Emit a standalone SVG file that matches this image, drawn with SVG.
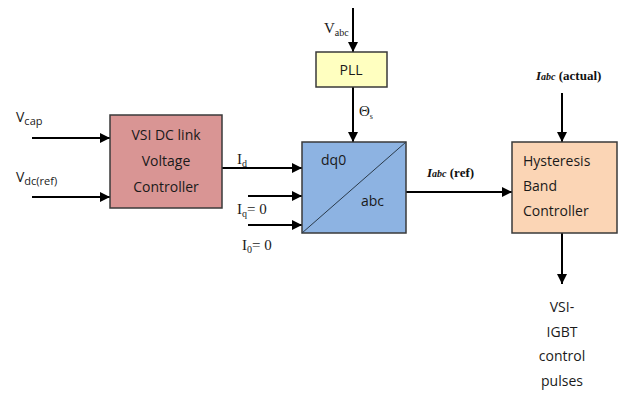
<svg xmlns="http://www.w3.org/2000/svg" width="618" height="395" viewBox="0 0 618 395">
<style>
.box{stroke:#3a3a3a;stroke-width:1.5}
.ln{stroke:#000;stroke-width:2;fill:none}
.t{font-family:"Open Sans","Liberation Sans",sans-serif;font-size:14px;fill:#1a1a1a}
.s{font-family:"Liberation Serif",serif;font-size:15px;fill:#1a1a1a}
.it{font-family:"Liberation Serif",serif;font-weight:bold;fill:#111}
</style>
<defs>
<marker id="ah" viewBox="0 0 10 10" refX="10" refY="5" markerWidth="5" markerHeight="5" orient="auto" markerUnits="strokeWidth">
<path d="M0,0 L10,5 L0,10 z" fill="#000"/>
</marker>
</defs>
<rect width="618" height="395" fill="#fff"/>
<g id="connectors">
<line class="ln" x1="32" y1="138" x2="110" y2="138" marker-end="url(#ah)"/>
<line class="ln" x1="32" y1="197" x2="110" y2="197" marker-end="url(#ah)"/>
<line class="ln" x1="353" y1="8" x2="353" y2="52" marker-end="url(#ah)"/>
<line class="ln" x1="353" y1="87" x2="353" y2="142" marker-end="url(#ah)"/>
<line class="ln" x1="222" y1="168" x2="302" y2="168" marker-end="url(#ah)"/>
<line class="ln" x1="248" y1="196" x2="302" y2="196" marker-end="url(#ah)"/>
<line class="ln" x1="248" y1="225" x2="302" y2="225" stroke-width="2.5" marker-end="url(#ah)"/>
<line class="ln" x1="406" y1="192" x2="512" y2="192" marker-end="url(#ah)"/>
<line class="ln" x1="562" y1="93" x2="562" y2="142" marker-end="url(#ah)"/>
<line class="ln" x1="562" y1="233" x2="562" y2="284" marker-end="url(#ah)"/>
</g>
<g id="labels">
<text class="t" x="16" y="122" font-size="16">V<tspan dy="3" font-size="11">cap</tspan></text>
<text class="t" x="16" y="182" font-size="16">V<tspan dy="3" font-size="11">dc(ref)</tspan></text>
<text class="s" x="324" y="33" font-size="16">V<tspan dy="3" font-size="10">abc</tspan></text>
<text class="s" x="359" y="116">Θ<tspan dy="3" font-size="8">s</tspan></text>
<text class="s" x="237" y="164">I<tspan dy="3" font-size="10">d</tspan></text>
<text class="s" x="237" y="214">I<tspan dy="3" font-size="10">q</tspan><tspan dy="-3">= 0</tspan></text>
<text class="s" x="242" y="250">I<tspan dy="3" font-size="10">0</tspan><tspan dy="-3">= 0</tspan></text>
<text class="it" x="427" y="177"><tspan font-style="italic" font-size="13">I</tspan><tspan font-style="italic" font-size="10">abc</tspan><tspan font-size="13"> (ref)</tspan></text>
<text class="it" x="536" y="80"><tspan font-style="italic" font-size="13">I</tspan><tspan font-style="italic" font-size="10">abc</tspan><tspan font-size="13"> (actual)</tspan></text>
<g class="t" text-anchor="middle">
<text x="562" y="312">VSI-</text>
<text x="562" y="337">IGBT</text>
<text x="562" y="361">control</text>
<text x="562" y="386">pulses</text>
</g>
</g>
<g id="vsi-controller">
<rect class="box" x="110" y="115" width="112" height="93" fill="#d99594"/>
<text class="t" x="166" y="140" text-anchor="middle">VSI DC link</text>
<text class="t" x="166" y="166" text-anchor="middle">Voltage</text>
<text class="t" x="166" y="192" text-anchor="middle">Controller</text>
</g>
<g id="pll">
<rect class="box" x="316" y="52" width="71" height="35" fill="#ffffc0"/>
<text class="t" x="351" y="75" text-anchor="middle">PLL</text>
</g>
<g id="dq0-abc">
<rect class="box" x="302" y="142" width="104" height="91" fill="#8db3e2"/>
<line x1="302" y1="233" x2="406" y2="142" stroke="#2a3a4a" stroke-width="1"/>
<text class="t" x="321" y="165">dq0</text>
<text class="t" x="361" y="206">abc</text>
</g>
<g id="hysteresis">
<rect class="box" x="512" y="142" width="105" height="91" fill="#fbd5b5"/>
<text class="t" x="523" y="166">Hysteresis</text>
<text class="t" x="523" y="191">Band</text>
<text class="t" x="523" y="216">Controller</text>
</g>
</svg>
